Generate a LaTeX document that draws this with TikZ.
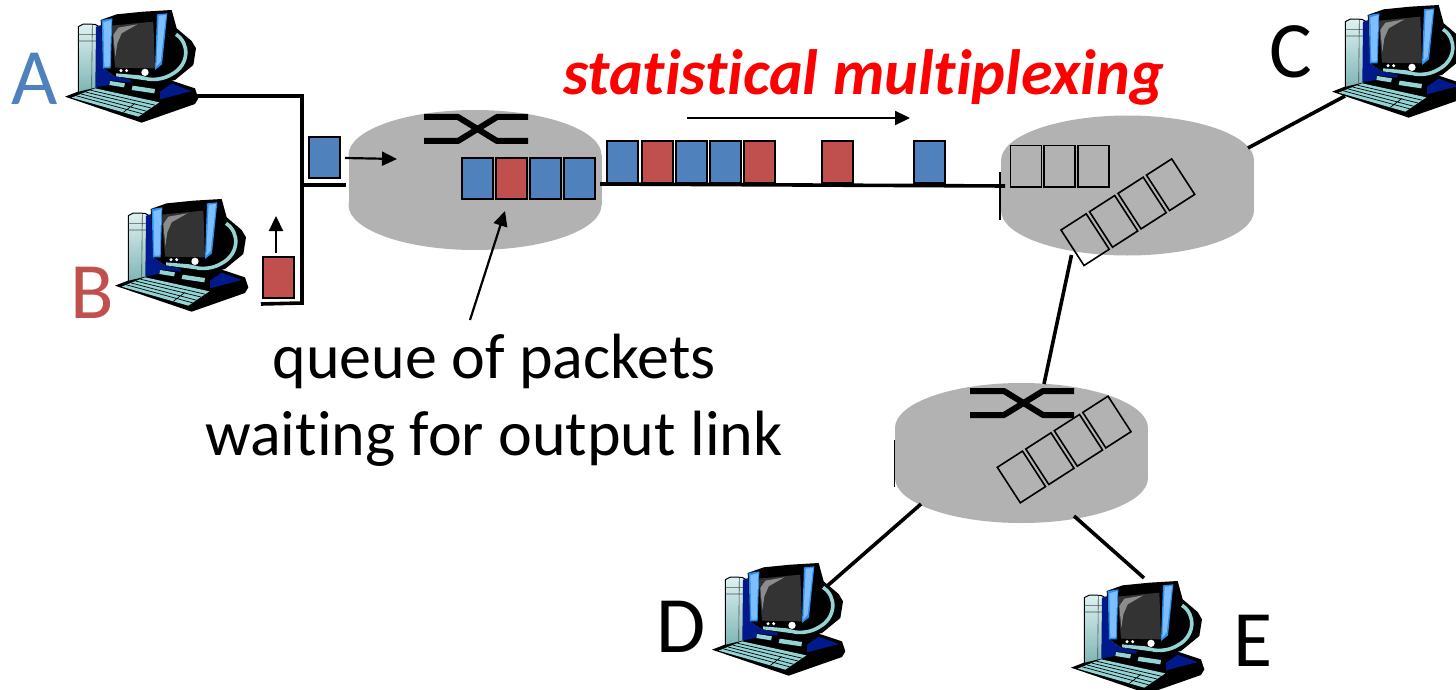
\documentclass[tikz,border=0pt]{standalone}
\usepackage{fontspec}
\setmainfont{Carlito}[Ligatures=NoCommon]
\usetikzlibrary{arrows.meta}
\definecolor{pblue}{HTML}{4F81BD}
\definecolor{pred}{HTML}{C0504D}
\definecolor{rgray}{HTML}{B2B2B2}
\definecolor{cteal}{HTML}{94D4D4}
\definecolor{cnavy}{HTML}{001A8C}
\definecolor{cblue}{HTML}{2F8FEF}
\definecolor{clight}{HTML}{7CBEFF}
\tikzset{
  wire/.style={line width=3.6pt,black},
  thinarrow/.style={line width=2.2pt,black,-{Triangle[length=15pt,width=14pt]}},
  pkt/.style={draw=black,line width=2pt},
  emptybox/.style={draw=black,line width=1.6pt},
  label/.style={anchor=base west,inner sep=0pt,font=\fontsize{80}{80}\selectfont},
  caption/.style={anchor=base,inner sep=0pt,font=\fontsize{64}{72}\selectfont},
  computer/.pic={
    \begin{scope}[scale=1/3,line join=round]
      % base
      \fill[black] (15,275)--(105,240)--(150,222)--(320,222)--(405,250)--(415,280)--(405,297)--(245,353)--cycle;
      \fill[cnavy] (300,260)--(335,236)--(395,258)--(300,283)--cycle;
      % tower
      \shade[top color=cteal!30,bottom color=cteal!85!black,draw=black,line width=1pt]
        (55,65)--(70,57)--(105,58)--(118,65)--(112,248)--(55,262)--cycle;
      \draw[black!70,line width=.6pt] (55,88)--(116,88) (55,108)--(116,108) (97,58)--(95,250);
      % dark blue desk
      \fill[cnavy] (108,65)--(125,60)--(130,190)--(165,215)--(212,222)--(212,233)--(150,226)--(146,240)--(106,247)--cycle;
      % monitor
      \fill[black] (122,45)--(170,28)--(250,20)--(335,15)--(350,70)--(395,108)--(408,130)--(400,180)--(345,225)--(290,238)--(165,215)--(130,190)--cycle;
      % teal arc
      \draw[cteal,line width=3.6pt] (348,88) .. controls (390,115) and (388,180) .. (335,208)
        .. controls (315,220) and (290,226) .. (262,222);
      \fill[black] (165,188)--(290,192)--(275,214)--(165,205)--cycle;
      \fill[cteal] (168,205)--(240,211)--(264,217)--(264,227)--(168,214)--cycle;
      \fill[white] (183,197) circle (5) (200,197) circle (5) (255,202) circle (11);
      % strips
      \fill[cblue] (125,45)--(157,40)--(152,190)--(129,190)--cycle;
      \fill[clight] (130,52)--(154,45)--(149,185)--(133,185)--cycle;
      \fill[cblue] (291,28)--(322,25)--(306,178)--(285,195)--cycle;
      \fill[clight] (296,32)--(318,30)--(302,170)--(289,185)--cycle;
      % screen
      \fill[black!80] (155,62)--(280,50)--(285,190)--(165,188)--cycle;
      \fill[black!45] (160,90)--(175,68)--(232,58)--(185,85)--(172,115)--(166,155)--cycle;
      % desk keys
      \fill[cteal] (150,228)--(195,235)--(192,247)--(148,240)--cycle;
      \fill[cteal] (218,242)--(285,252)--(283,265)--(215,255)--cycle;
      % keyboard
      \fill[cteal] (35,278)--(105,250)--(298,292)--(235,335)--cycle;
      \draw[black,line width=.7pt]
        (49,272.4)--(247.6,326.4) (63,266.8)--(260,318.8) (77,261.2)--(273,309) (91,255.6)--(285.4,300.6)
        (225,295)--(190,322);
    \end{scope}
  },
  router/.pic={
    \fill[rgray] (0,0) ellipse (126.5 and 45);
    \fill[rgray] (-126.5,0) rectangle (126.5,50);
    \fill[rgray] (0,50) ellipse (126.5 and 45);
  },
  xover/.pic={
    \draw[line width=6pt,black,line join=round] (0,0)--(34,0)--(73,24)--(104,24);
    \draw[line width=6pt,black,line join=round] (0,24)--(34,24)--(73,0)--(104,0);
  },
  tiltqueue/.pic={
    \foreach \i in {0,1,2,3}{
      \draw[emptybox] ({\i*28.5},{-\i*18.3})--({\i*28.5+25.2},{-\i*18.3-16.2})--({\i*28.5+25.2+23},{-\i*18.3-16.2+35.5})--({\i*28.5+23},{-\i*18.3+35.5})--cycle;
    }
  }
}
\begin{document}
\begin{tikzpicture}[x=1pt,y=-1pt]
\useasboundingbox (0,0) rectangle (1456,690);
\clip (0,0) rectangle (1456,690);
% routers
\pic at (475,155) {router};
\pic at (1127.5,160.5) {router};
\pic at (1021.5,428) {router};
\draw[line width=1.2pt] (1000,172)--(1000,220);
\draw[line width=1.2pt] (894.5,440)--(894.5,487);
% computers
\pic at (60,5) {computer};
\pic at (110,194) {computer};
\pic at (1327,0) {computer};
\pic at (707,558) {computer};
\pic at (1066,576) {computer};
% anchors
\coordinate (aout) at (197,96);
\coordinate (acorner) at (302,96);
\coordinate (bcorner) at (302,303);
\coordinate (bend) at (261,304);
\coordinate (junction) at (302,185);
\coordinate (jend) at (346,185);
\coordinate (r1out) at (600,184);
\coordinate (r2in) at (1005,186);
\coordinate (r2c) at (1248,148);
\coordinate (cin) at (1345,96);
\coordinate (r2d) at (1071.5,255);
\coordinate (r3u) at (1044,384);
\coordinate (r3d) at (921,504);
\coordinate (din) at (826,587);
\coordinate (r3e) at (1074,516);
\coordinate (ein) at (1144,578);
% links
\draw[wire] (aout)--(acorner)--(bcorner)--(bend);
\draw[wire] (junction)--(jend);
\draw[wire] (r1out)--(r2in);
\draw[wire] (r2c)--(cin);
\draw[wire] (r2d)--(r3u);
\draw[wire] (r3d)--(din);
\draw[wire] (r3e)--(ein);
% switch symbols
\pic at (424,117) {xover};
\pic at (970,391) {xover};
% queue in router 1
\node[pkt,fill=pblue,minimum width=31pt,minimum height=41pt,inner sep=0pt] (q1) at (477.5,178) {};
\node[pkt,fill=pred,minimum width=31pt,minimum height=41pt,inner sep=0pt] (q2) at (511.5,178) {};
\node[pkt,fill=pblue,minimum width=31pt,minimum height=41pt,inner sep=0pt] (q3) at (545.8,178) {};
\node[pkt,fill=pblue,minimum width=31pt,minimum height=41pt,inner sep=0pt] (q4) at (579.8,178) {};
% packets on the line
\foreach \n/\x/\c in {l1/622.5/pblue,l2/657/pred,l3/691/pblue,l4/725/pblue,l5/759/pred,l6/837/pred,l7/929/pblue}{
  \node[pkt,fill=\c,minimum width=31pt,minimum height=41pt,inner sep=0pt] (\n) at (\x,162) {};
}
% packets near the hosts
\node[pkt,fill=pblue,minimum width=31pt,minimum height=41pt,inner sep=0pt] (pa) at (324.7,157.3) {};
\node[pkt,fill=pred,minimum width=31pt,minimum height=41pt,inner sep=0pt] (pb) at (278.3,277.2) {};
% empty queue router 2
\foreach \n/\x in {e1/1025.8,e2/1059.5,e3/1093.3}{
  \node[emptybox,minimum width=31pt,minimum height=41pt,inner sep=0pt] (\n) at (\x,166.2) {};
}
\pic at (1061,230) {tiltqueue};
\pic at (997.3,467.3) {tiltqueue};
% arrows
\coordinate (a1s) at (345,158); \coordinate (a1e) at (397,159);
\coordinate (a2s) at (276,253); \coordinate (a2e) at (276,216);
\coordinate (a3s) at (470,320); \coordinate (a3e) at (505,211);
\coordinate (a4s) at (687,118); \coordinate (a4e) at (910,118);
\draw[thinarrow] (a1s)--(a1e);
\draw[thinarrow] (a2s)--(a2e);
\draw[thinarrow] (a3s)--(a3e);
\draw[thinarrow] (a4s)--(a4e);
% labels
\node[label,text=pblue] (la) at (11,105) {A};
\node[label,text=pred] (lb) at (70,318) {B};
\node[label] (lc) at (1269,78) {C};
\node[label] (ld) at (656,652) {D};
\node[label] (le) at (1233,666) {E};
\node[caption] (t1) at (494,378) {queue of packets};
\node[caption] (t2) at (494,455) {waiting for output link};
\node[anchor=base west,inner sep=0pt,font=\fontsize{64}{72}\selectfont\bfseries\itshape,text=red] (t3) at (563,95) {statistical multiplexing};
\end{tikzpicture}
\end{document}
